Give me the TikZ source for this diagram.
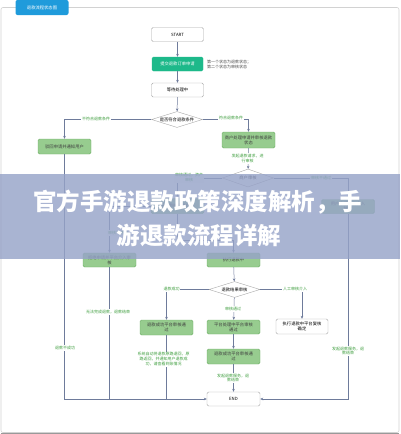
\documentclass[tikz,border=0pt]{standalone}
\usepackage{fontspec}
\newfontfamily\cjk{Noto Sans CJK SC}
\usetikzlibrary{shapes.geometric,arrows.meta,calc}
\definecolor{teal1}{HTML}{1DB98A}
\definecolor{lgreen}{HTML}{97CC8F}
\definecolor{lgreenb}{HTML}{6FAE67}
\definecolor{lblgreen}{HTML}{3E9E3E}
\definecolor{linec}{HTML}{6E7B9B}
\definecolor{boxb}{HTML}{A8A8A8}
\definecolor{frame}{HTML}{D2D2D2}
\definecolor{tabblue}{HTML}{1F9BDB}
\definecolor{band}{RGB}{150,163,200}
\begin{document}
\begin{tikzpicture}[x=1pt,y=-1pt,
  every node/.style={font=\cjk\fontsize{4.3}{5}\selectfont, inner sep=0pt, align=center},
  wbox/.style={draw=boxb, fill=white, rounded corners=1.5pt, minimum width=52pt, minimum height=14pt, line width=0.4pt},
  gbox/.style={draw=lgreenb, fill=lgreen, rounded corners=1.5pt, minimum width=53pt, minimum height=15pt, line width=0.4pt, text=black!75},
  tbox/.style={draw=teal1, fill=teal1, rounded corners=1.5pt, minimum width=51pt, minimum height=14pt, text=white},
  dia/.style={diamond, draw=boxb, fill=white, aspect=3.4, minimum width=51pt, minimum height=16pt, line width=0.4pt},
  lbl/.style={text=lblgreen, fill=white, inner sep=0.8pt, font=\cjk\fontsize{4}{4.8}\selectfont},
  arr/.style={draw=linec, line width=0.5pt, -{Stealth[length=3pt,width=2.6pt]}},
  ln/.style={draw=linec, line width=0.5pt}
]
\useasboundingbox (0,0) rectangle (400,434);
% frame
\draw[frame, line width=0.6pt, rounded corners=2pt] (1,7.5) rectangle (399,432.5);
\draw[gray!80, line width=0.8pt] (1,433) -- (399,433);
\node[fill=tabblue, rounded corners=2pt, minimum width=53pt, minimum height=15pt, text=white] (tab) at (42,7.5) {退款流程状态图};

% nodes
\node[wbox] (start) at (177.5,34.5) {START};
\node[tbox] (teal) at (177.5,64) {提交退款订单申请};
\node[lbl, text=black!70, align=left, anchor=west] (note) at (206,64.5) {第一个状态为退款状态；\\第二个状态为审核状态};
\node[wbox] (wait) at (177.5,90) {等待处理中};
\node[dia] (d1) at (177,119.5) {是否符合退款条件};
\node[gbox] (lb1) at (64.5,146.5) {驳回申请并通知用户};
\node[gbox, minimum height=16pt] (rb1) at (248.5,140) {商户处理申请并审核退款\\状态};
\node[dia, minimum height=18pt] (d2) at (248,178) {商户审核};
\node[gbox, minimum height=14pt] (rb2) at (348,206.5) {用户申请平台介入\\仲裁};
\node[gbox] (mid) at (177.5,206) {平台审核资产信息};
\node[gbox, minimum height=14pt] (lb2) at (109.5,260) {拒绝申请并平台介入审\\核};
\node[gbox, minimum height=14pt] (exec) at (233.5,260) {执行退款中};
\node[dia] (d3) at (234.5,289.5) {退款结果审核};
\node[wbox, minimum height=15pt] (wb) at (302,326.5) {执行退款中平台复核\\确定};
\node[gbox] (lbb) at (166.5,327.5) {退款成功平台审核通\\过};
\node[gbox, minimum height=14pt] (mb1) at (233.5,327) {平台处理中平台审核\\通过};
\node[gbox] (mb2) at (233.5,356.5) {退款成功平台审核通\\过};
\node[wbox, minimum width=53pt] (end) at (233.5,399) {END};

\coordinate (j1) at (233.5,240);
\coordinate (j0) at (177.5,240);

% edges
\draw[arr] (start) -- (teal);
\draw[arr] (teal) -- (wait);
\draw[arr] (wait) -- (d1);
\draw[arr] (d1.west) -| (lb1.north);
\draw[arr] (d1.east) -| (rb1.north);
\draw[arr] (rb1) -- (d2);
\draw[arr] (d2.west) -| (mid.north);
\draw[arr] (d2.east) -| (rb2.north);
\draw[ln] (mid.south) -- (j0) -- (j1);
\draw[arr] (j1) -- (exec.north);
\draw[arr] (mid.west) -| (lb2.north);
\draw[arr] (lb1.south) |- (end.west);
\draw[ln] (lb2.south) -- (lb2.south |- end.west);
\draw[ln] (lbb.south) -- (lbb.south |- end.west);
\draw[arr] (rb2.south) |- (end.east);
\draw[arr] (exec) -- (d3);
\draw[arr] (d3.west) -| (lbb.north);
\draw[arr] (d3.east) -| (wb.north);
\draw[arr] (d3) -- (mb1);
\draw[arr] (mb1) -- (mb2);
\draw[arr] (mb2) -- (end);

% labels
\node[lbl] (l1) at (96,118.5) {不符合退款条件};
\node[lbl] (l2) at (231,118) {符合退款条件};
\node[lbl] (l3) at (247.5,158.5) {发起退款请求，进\\行审核};
\node[lbl] (l4) at (189,177.5) {审核通过，资产\\审核};
\node[lbl] (l5) at (321,177.5) {审核不通过};
\node[lbl] (l6) at (118,233) {审核不通过};
\node[lbl] (l7) at (108,312) {无法完成退款，退款结束};
\node[lbl] (l8) at (65,348) {退款不成功};
\node[lbl] (l9) at (171.5,289) {退款成功};
\node[lbl] (l10) at (295,289) {人工审核介入};
\node[lbl] (l11) at (233,309) {审核通过};
\node[lbl] (l12) at (163.5,359) {系统自动将退款原路退回，原\\路返回，并通知用户退款成\\功，请查看到账情况};
\node[lbl] (l13) at (233,378) {发起退款服务，退\\款结束};
\node[lbl] (l14) at (348,351) {发起退款服务，退\\款结束};

% overlay band and title
\fill[band, opacity=0.82] (0,174) rectangle (400,259);
\node[font=\cjk\bfseries\fontsize{23.5}{32}\selectfont, text=white] (t1) at (198,202) {官方手游退款政策深度解析，手};
\node[font=\cjk\bfseries\fontsize{23.5}{32}\selectfont, text=white] (t2) at (199,235) {游退款流程详解};
\end{tikzpicture}
\end{document}
